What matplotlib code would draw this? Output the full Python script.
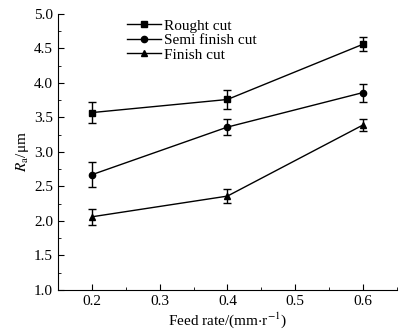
import numpy as np
import matplotlib.pyplot as plt

plt.rcParams['font.family'] = 'Liberation Serif'
plt.rcParams['mathtext.fontset'] = 'stix'

# data
feed = [0.2, 0.4, 0.6]
rough = [3.57, 3.76, 4.56]
rough_err = [0.15, 0.14, 0.10]
semi = [2.67, 3.36, 3.86]
semi_err = [0.18, 0.11, 0.13]
finish = [2.06, 2.36, 3.39]
finish_err = [0.12, 0.10, 0.08]

fig = plt.figure(figsize=(4.07, 3.31), dpi=100)
ax = fig.add_axes([0.1425, 0.124, 0.8325, 0.834])

c1 = ax.errorbar(feed, rough, yerr=rough_err, color='black', marker='s', markersize=4.5,
                 linewidth=1, capsize=3, elinewidth=1)
c2 = ax.errorbar(feed, semi, yerr=semi_err, color='black', marker='o', markersize=4.5,
                 linewidth=1, capsize=3, elinewidth=1)
c3 = ax.errorbar(feed, finish, yerr=finish_err, color='black', marker='^', markersize=4.5,
                 linewidth=1, capsize=3, elinewidth=1)

ax.set_xlim(0.15, 0.65)
ax.set_ylim(1.0, 5.0)
ax.set_xticks(np.arange(0.2, 0.61, 0.1))
ax.set_xticks(np.arange(0.15, 0.66, 0.05), minor=True)
ax.set_yticks(np.arange(1.0, 5.01, 0.5))
ax.set_yticks(np.arange(1.0, 5.01, 0.25), minor=True)
ax.xaxis.set_major_formatter(plt.FormatStrFormatter('%.1f'))
ax.yaxis.set_major_formatter(plt.FormatStrFormatter('%.1f'))
ax.tick_params(which='both', direction='in', labelsize=11)
ax.tick_params(which='major', length=4)
ax.tick_params(which='minor', length=2.5)

ax.spines['top'].set_visible(False)
ax.spines['right'].set_visible(False)

ax.set_xlabel(r'Feed rate/(mm$\cdot$r$^{-1}$)', fontsize=11, labelpad=2)
ax.set_ylabel(r'$R_{\mathrm{a}}$/μm', fontsize=11, labelpad=2)

# legend shows plain line + marker, no error bars
ax.legend([c1[0], c2[0], c3[0]], ['Rought cut', 'Semi finish cut', 'Finish cut'],
          loc='upper left', bbox_to_anchor=(0.173, 1.02), frameon=False, fontsize=11,
          handlelength=2.2, handletextpad=0.2, labelspacing=0.05, borderpad=0.2)

fig.savefig('out.png')
